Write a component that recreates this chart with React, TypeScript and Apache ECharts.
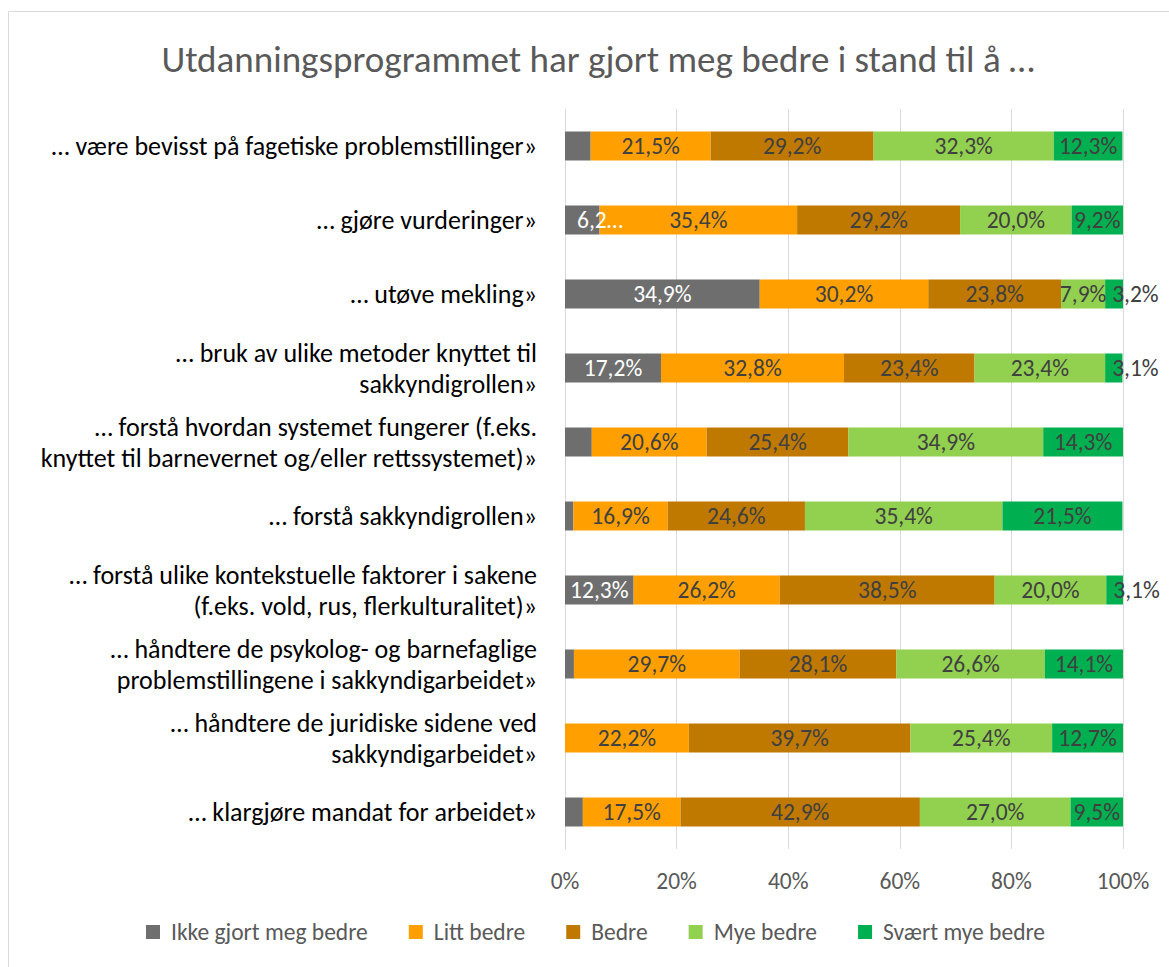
import React, { useEffect, useRef } from "react";
import * as echarts from "echarts";

const categories = [
  "… være bevisst på fagetiske problemstillinger»",
  "… gjøre vurderinger»",
  "… utøve mekling»",
  "… bruk av ulike metoder knyttet til\nsakkyndigrollen»",
  "… forstå hvordan systemet fungerer (f.eks.\nknyttet til barnevernet og/eller rettssystemet)»",
  "… forstå sakkyndigrollen»",
  "… forstå ulike kontekstuelle faktorer i sakene\n(f.eks. vold, rus, flerkulturalitet)»",
  "… håndtere de psykolog- og barnefaglige\nproblemstillingene i sakkyndigarbeidet»",
  "… håndtere de juridiske sidene ved\nsakkyndigarbeidet»",
  "… klargjøre mandat for arbeidet»",
];

const seriesNames = ["Ikke gjort meg bedre", "Litt bedre", "Bedre", "Mye bedre", "Svært mye bedre"];

const ikkeGjort = [4.6, 6.2, 34.9, 17.2, 4.8, 1.5, 12.3, 1.6, 0, 3.2];
const littBedre = [21.5, 35.4, 30.2, 32.8, 20.6, 16.9, 26.2, 29.7, 22.2, 17.5];
const bedre = [29.2, 29.2, 23.8, 23.4, 25.4, 24.6, 38.5, 28.1, 39.7, 42.9];
const myeBedre = [32.3, 20.0, 7.9, 23.4, 34.9, 35.4, 20.0, 26.6, 25.4, 27.0];
const svaertMyeBedre = [12.3, 9.2, 3.2, 3.1, 14.3, 21.5, 3.1, 14.1, 12.7, 9.5];

const xTicks = [0, 20, 40, 60, 80, 100];

const colors = ["#6e6e6e", "#ffa000", "#bf7800", "#92d050", "#00b050"];

const FONT = "Carlito, Lato, sans-serif";

const fmt = (v: number) => v.toFixed(1).replace(".", ",") + "%";

export default function App() {
  const ref = useRef<HTMLDivElement>(null);
  useEffect(() => {
    if (!ref.current) return;
    const chart = echarts.init(ref.current, null, { renderer: "svg" });
    const allData = [ikkeGjort, littBedre, bedre, myeBedre, svaertMyeBedre];
    const series = allData.map((arr, si) => ({
      name: seriesNames[si],
      type: "bar",
      stack: "total",
      barWidth: 29,
      itemStyle: { color: colors[si] },
      data: arr.map((v) => {
        const item: any = { value: v };
        if (si === 0) {
          if (v < 6) {
            item.label = { show: false };
          } else if (v < 10) {
            item.label = {
              show: true,
              position: "insideLeft",
              distance: 12,
              formatter: () => fmt(v).slice(0, 3) + "…",
            };
          }
        }
        if (si === 4 && v < 5) {
          item.label = { show: true, position: "insideLeft", distance: 7 };
        }
        return item;
      }),
      label: {
        show: true,
        position: "inside",
        color: si === 0 ? "#ffffff" : "#404040",
        fontFamily: FONT,
        fontSize: 23.5,
        formatter: (p: any) => fmt(p.value),
      },
    }));

    chart.setOption({
      animation: false,
      textStyle: { fontFamily: FONT },
      title: {
        text: "Utdanningsprogrammet har gjort meg bedre i stand til å …",
        left: 593,
        textAlign: "center",
        top: 36,
        textStyle: { fontFamily: FONT, fontSize: 37, fontWeight: "normal", color: "#595959" },
      },
      legend: {
        bottom: 18,
        left: 141,
        icon: "rect",
        itemWidth: 14,
        itemHeight: 14,
        itemGap: 41,
        textStyle: { fontFamily: FONT, fontSize: 23.5, color: "#595959", padding: [0, 0, 0, 6] },
        data: seriesNames,
      },
      graphic: [
        {
          type: "rect",
          shape: { x: 8.5, y: 11.5, width: 1200, height: 1200 },
          style: { fill: "none", stroke: "#d9d9d9", lineWidth: 1 },
          silent: true,
        },
      ],
      grid: { left: 565, right: 46, top: 109, bottom: 118, containLabel: false },
      xAxis: {
        type: "value",
        min: xTicks[0],
        max: xTicks[xTicks.length - 1],
        interval: 20,
        axisLine: { show: false },
        axisTick: { show: false },
        splitLine: { show: true, lineStyle: { color: "#d9d9d9", width: 1 } },
        axisLabel: {
          margin: 20,
          fontFamily: FONT,
          fontSize: 23.5,
          color: "#595959",
          formatter: "{value}%",
        },
      },
      yAxis: {
        type: "category",
        inverse: true,
        data: categories,
        axisLine: { show: true, lineStyle: { color: "#d9d9d9" } },
        axisTick: { show: false },
        axisLabel: {
          margin: 28,
          fontFamily: FONT,
          fontSize: 26,
          lineHeight: 31,
          color: "#000000",
          align: "right",
        },
      },
      series,
    });
    return () => chart.dispose();
  }, []);
  return (
    <div
      ref={ref}
      style={{ position: "absolute", left: 0, top: 0, width: 1169, height: 967, background: "#ffffff" }}
    />
  );
}
